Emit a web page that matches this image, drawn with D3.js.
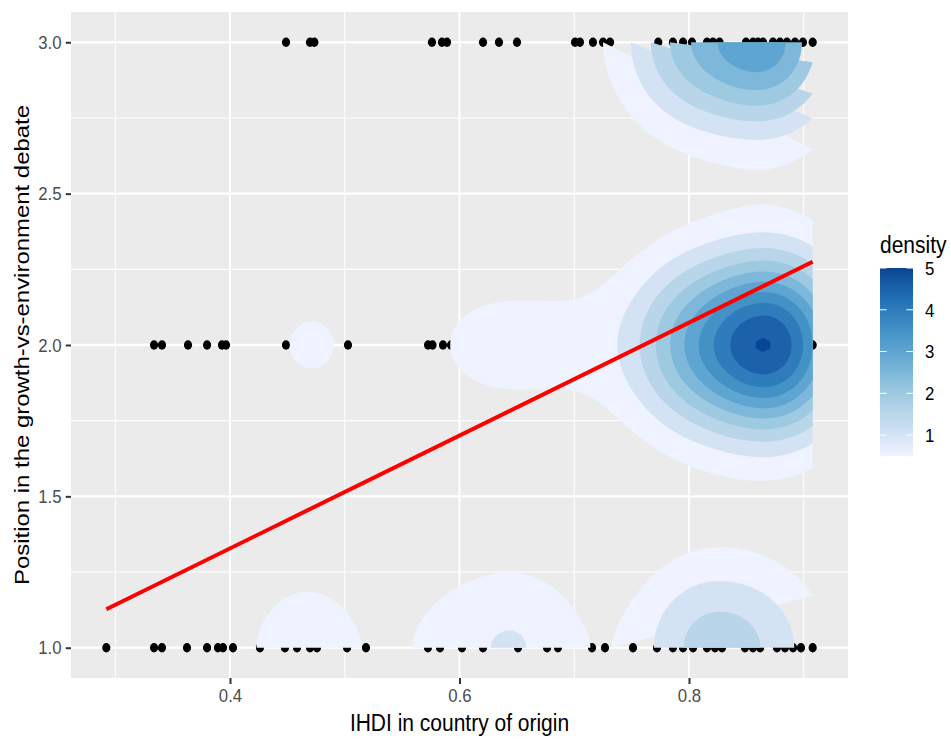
<!DOCTYPE html>
<html>
<head>
<meta charset="utf-8">
<script src="https://cdn.jsdelivr.net/npm/d3@7"></script>
<style>
  body { margin: 0; background: #fff; }
  svg { display: block; font-family: 'Liberation Sans', Arial, sans-serif; }
</style>
</head>
<body>
<svg id="chart"></svg>
<script>
// Respondents per IHDI value, one pair of arrays per debate position
const pos1X = [0.2922, 0.3338, 0.3407, 0.3625, 0.3800, 0.3895, 0.3939, 0.4026, 0.4261, 0.4479,
  0.4584, 0.4697, 0.4758, 0.5020, 0.5185, 0.5725, 0.5830, 0.6022, 0.6205, 0.6510,
  0.6763, 0.6858, 0.7155, 0.7268, 0.7512, 0.7721, 0.7860, 0.7948, 0.8035, 0.8157,
  0.8227, 0.8288, 0.8488, 0.8558, 0.8620, 0.8767, 0.8837, 0.8907, 0.8976, 0.9078];
const pos1N = [2, 2, 2, 2, 2, 1, 1, 1, 1, 5,
  4, 11, 8, 3, 1, 7, 6, 5, 7, 25,
  7, 3, 1, 1, 1, 4, 7, 10, 10, 10,
  10, 10, 8, 7, 7, 6, 6, 4, 3, 2];

const pos2X = [0.3338, 0.3407, 0.3634, 0.3800, 0.3930, 0.3965, 0.4488, 0.4730, 0.5028, 0.5726,
  0.5765, 0.5856, 0.5926, 0.6022, 0.6205, 0.6344, 0.6510, 0.6763, 0.6858, 0.7007,
  0.7050, 0.7163, 0.7251, 0.7312, 0.7512, 0.7720, 0.7878, 0.7948, 0.8009, 0.8157,
  0.8227, 0.8270, 0.8497, 0.8558, 0.8601, 0.8645, 0.8732, 0.8793, 0.8854, 0.8924,
  0.8993, 0.9078];
const pos2N = [2, 2, 2, 2, 2, 2, 6, 12, 6, 2,
  2, 2, 2, 4, 5, 5, 5, 5, 4, 3,
  3, 2, 2, 1, 1, 12, 11, 15, 26, 14,
  13, 12, 18, 18, 22, 24, 23, 21, 16, 15,
  25, 22];

const pos3X = [0.4488, 0.4697, 0.4735, 0.5760, 0.5847, 0.5891, 0.6205, 0.6344, 0.6501, 0.7007,
  0.7050, 0.7163, 0.7251, 0.7312, 0.7732, 0.7860, 0.7948, 0.8026, 0.8157, 0.8209,
  0.8266, 0.8497, 0.8558, 0.8601, 0.8645, 0.8732, 0.8793, 0.8854, 0.8924, 0.8993,
  0.9078];
const pos3N = [2, 2, 2, 2, 2, 2, 2, 2, 2, 1,
  1, 1, 1, 1, 13, 14, 12, 15, 12, 10,
  10, 13, 12, 11, 12, 18, 19, 17, 10, 8,
  6];

// Fitted linear trend, read at both ends of the data range
const fitX = [0.2922, 0.9078];
const fitY = [1.127, 2.275];

const xTicks = [0.4, 0.6, 0.8];
const xMinor = [0.3, 0.5, 0.7, 0.9];
const yTicks = [1.0, 1.5, 2.0, 2.5, 3.0];
const yMinor = [1.25, 1.75, 2.25, 2.75];
const densityLevels = [0.5, 1, 1.5, 2, 2.5, 3, 3.5, 4, 4.5, 5];
const legendTicks = [1, 2, 3, 4, 5];
const bluePalette = ['#eff3ff', '#c6dbef', '#9ecae1', '#6baed6', '#4292c6', '#2171b5', '#084594'];
const kernelSd = [0.038, 0.205];

const width = 951;
const height = 740;
const panel = { left: 71, right: 848, top: 12, bottom: 678 };
const stretch = 1.14; // the picture is a little taller than it is wide

const svg = d3.select('#chart').attr('width', width).attr('height', height);

const points = [];
[[pos1X, pos1N, 1], [pos2X, pos2N, 2], [pos3X, pos3N, 3]].forEach(([xs, ns, y]) => {
  xs.forEach((x, i) => points.push({ x, y, n: ns[i] }));
});

// X
const [xMin, xMax] = d3.extent(points, (d) => d.x);
const xPad = (xMax - xMin) * 0.05;
const xScale = d3
  .scaleLinear()
  .domain([xMin - xPad, xMax + xPad])
  .range([panel.left, panel.right]);

// Y
const [yMin, yMax] = d3.extent(points, (d) => d.y);
const yPad = (yMax - yMin) * 0.05;
const yScale = d3
  .scaleLinear()
  .domain([yMin - yPad, yMax + yPad])
  .range([panel.bottom, panel.top]);

// Panel
svg
  .append('rect')
  .attr('x', panel.left)
  .attr('y', panel.top)
  .attr('width', panel.right - panel.left)
  .attr('height', panel.bottom - panel.top)
  .attr('fill', '#ebebeb');

// Grid
const grid = svg.append('g').attr('stroke', '#fff');
const vLines = (vals, w) =>
  grid
    .append('g')
    .selectAll('line')
    .data(vals)
    .join('line')
    .attr('x1', (d) => xScale(d))
    .attr('x2', (d) => xScale(d))
    .attr('y1', panel.top)
    .attr('y2', panel.bottom)
    .attr('stroke-width', w);
const hLines = (vals, w) =>
  grid
    .append('g')
    .selectAll('line')
    .data(vals)
    .join('line')
    .attr('y1', (d) => yScale(d))
    .attr('y2', (d) => yScale(d))
    .attr('x1', panel.left)
    .attr('x2', panel.right)
    .attr('stroke-width', w * stretch);
vLines(xMinor, 1);
hLines(yMinor, 1);
vLines(xTicks, 2);
hLines(yTicks, 2);

// Points
svg
  .append('g')
  .selectAll('ellipse')
  .data(points)
  .join('ellipse')
  .attr('cx', (d) => xScale(d.x))
  .attr('cy', (d) => yScale(d.y))
  .attr('rx', 4.1)
  .attr('ry', 4.1 * stretch)
  .attr('fill', '#000');

// 2d kernel density on a 100 x 100 grid over the data range
const nx = 100;
const ny = 100;
const total = d3.sum(points, (d) => d.n);
const [sx, sy] = kernelSd;
const gx = d3.range(nx).map((i) => xMin + (i * (xMax - xMin)) / (nx - 1));
const gy = d3.range(ny).map((j) => yMin + (j * (yMax - yMin)) / (ny - 1));
const phi = (z) => Math.exp(-0.5 * z * z) / Math.sqrt(2 * Math.PI);
const ax = points.map((p) => gx.map((g) => phi((g - p.x) / sx)));
const ay = points.map((p) => gy.map((g) => phi((g - p.y) / sy)));
const values = new Array(nx * ny).fill(0);
for (let j = 0; j < ny; j++) {
  for (let i = 0; i < nx; i++) {
    let s = 0;
    for (let k = 0; k < points.length; k++) s += points[k].n * ax[k][i] * ay[k][j];
    values[j * nx + i] = s / (total * sx * sy);
  }
}

const colour = d3
  .scaleSequential(d3.piecewise(d3.interpolateLab, bluePalette))
  .domain([densityLevels[0], densityLevels[densityLevels.length - 1]]);

const contours = d3.contours().size([nx, ny]).thresholds(densityLevels)(values);

// contour lines that run into the data edge are closed with a straight chord
const onEdge = ([c, r]) => c === 0 || c === nx || r === 0 || r === ny;
const clamp = (v, hi) => Math.max(0, Math.min(hi, v));
const toPx = ([c, r]) => [
  xScale(xMin + (clamp(c - 0.5, nx - 1) * (xMax - xMin)) / (nx - 1)),
  yScale(yMin + (clamp(r - 0.5, ny - 1) * (yMax - yMin)) / (ny - 1)),
];

const densityG = svg.append('g');
contours.forEach((ct) => {
  ct.coordinates.forEach((poly) => {
    const ring = poly[0].filter((p) => !onEdge(p)).map(toPx);
    if (ring.length < 3) return;
    densityG
      .append('path')
      .attr('d', 'M' + ring.map((p) => p.join(',')).join('L') + 'Z')
      .attr('fill', colour(ct.value));
  });
});

// Trend line
svg
  .append('path')
  .datum(fitX.map((x, i) => [x, fitY[i]]))
  .attr('fill', 'none')
  .attr('stroke', '#ff0000')
  .attr('stroke-width', 4)
  .attr('d', d3.line().x((d) => xScale(d[0])).y((d) => yScale(d[1])));

// Axes
const styleAxis = (g) => {
  g.select('.domain').remove();
  g.selectAll('.tick line').attr('stroke', '#333').attr('stroke-width', 2);
  g.selectAll('.tick text')
    .attr('fill', '#4d4d4d')
    .attr('font-size', 16.8)
    .attr('font-family', "'Liberation Sans', Arial, sans-serif")
    .attr('transform', `scale(1,${stretch})`);
};

svg
  .append('g')
  .attr('transform', `translate(0,${panel.bottom})`)
  .call(
    d3
      .axisBottom(xScale)
      .tickValues(xTicks)
      .tickFormat(d3.format('.1f'))
      .tickSizeInner(6)
      .tickSizeOuter(0)
      .tickPadding(3.5)
  )
  .call(styleAxis);

svg
  .append('g')
  .attr('transform', `translate(${panel.left},0)`)
  .call(
    d3
      .axisLeft(yScale)
      .tickValues(yTicks)
      .tickFormat(d3.format('.1f'))
      .tickSizeInner(5.25)
      .tickSizeOuter(0)
      .tickPadding(4.2)
  )
  .call(styleAxis);

svg
  .append('text')
  .attr('transform', `translate(${(panel.left + panel.right) / 2},731) scale(1,${stretch})`)
  .attr('text-anchor', 'middle')
  .attr('font-size', 21)
  .attr('fill', '#000')
  .text('IHDI in country of origin');

svg
  .append('text')
  .attr('transform', `translate(29,${(panel.top + panel.bottom) / 2}) rotate(-90) scale(${stretch},1)`)
  .attr('text-anchor', 'middle')
  .attr('font-size', 21)
  .attr('fill', '#000')
  .text('Position in the growth-vs-environment debate');

// Legend
const bar = { x: 880, w: 33, top: 268, bottom: 456 };
const legendScale = d3
  .scaleLinear()
  .domain(colour.domain())
  .range([bar.bottom, bar.top]);

const grad = svg
  .append('defs')
  .append('linearGradient')
  .attr('id', 'densityBar')
  .attr('x1', 0)
  .attr('y1', 1)
  .attr('x2', 0)
  .attr('y2', 0);
grad
  .selectAll('stop')
  .data(d3.range(0, 1.0001, 0.05))
  .join('stop')
  .attr('offset', (t) => t)
  .attr('stop-color', (t) => colour.interpolator()(t));

const legend = svg.append('g');
legend
  .append('text')
  .attr('transform', `translate(${bar.x},253) scale(1,${stretch})`)
  .attr('font-size', 21)
  .attr('fill', '#000')
  .text('density');

legend
  .append('rect')
  .attr('x', bar.x)
  .attr('y', bar.top)
  .attr('width', bar.w)
  .attr('height', bar.bottom - bar.top)
  .attr('fill', 'url(#densityBar)');

const tickLen = bar.w / 5;
legend
  .append('g')
  .attr('stroke', '#fff')
  .attr('stroke-width', 1)
  .selectAll('path')
  .data(legendTicks)
  .join('path')
  .attr(
    'd',
    (d) =>
      `M${bar.x},${legendScale(d)}h${tickLen}M${bar.x + bar.w - tickLen},${legendScale(d)}h${tickLen}`
  );

legend
  .append('g')
  .selectAll('text')
  .data(legendTicks)
  .join('text')
  .attr('transform', (d) => `translate(${bar.x + bar.w + 12},${legendScale(d) + 6.9}) scale(1,${stretch})`)
  .attr('font-size', 16.8)
  .attr('fill', '#000')
  .text((d) => d);
</script>
</body>
</html>
